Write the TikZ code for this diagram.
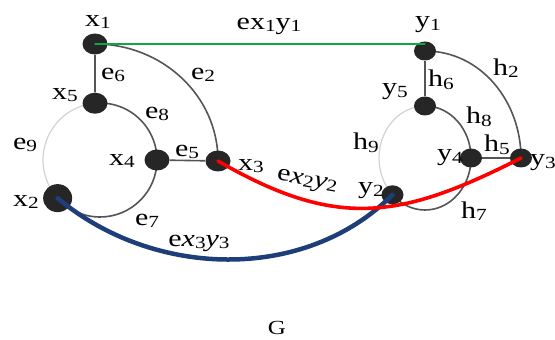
\documentclass[tikz,border=0pt]{standalone}
\usepackage{fontspec}
\setmainfont{Liberation Serif}
\newfontfamily\lblfont[FakeStretch=1.25]{Liberation Serif}
\usetikzlibrary{shapes,positioning,calc,backgrounds}
\usepackage{xcolor}
\definecolor{nodeblack}{RGB}{38,38,38}
\definecolor{edgegray}{RGB}{85,85,85}
\definecolor{faintgray}{RGB}{210,210,210}
\definecolor{linkgreen}{RGB}{20,165,70}
\definecolor{linkblue}{RGB}{30,62,122}
\newcommand{\lsub}[1]{\raisebox{-2.5pt}{\fontsize{17}{17}\selectfont #1}}

\begin{document}
\begin{tikzpicture}[x=1pt, y=1pt, thick]
  \tikzstyle{vertex} = [ellipse, fill=nodeblack, minimum width=25pt, minimum height=21pt, inner sep=0pt]
  \tikzstyle{small vertex} = [vertex, minimum width=22pt, minimum height=19pt]
  \tikzstyle{big vertex} = [vertex, minimum width=29pt, minimum height=28pt]
  \tikzstyle{lbl} = [font=\lblfont\fontsize{24}{26}\selectfont, inner sep=0pt]
  \tikzstyle{edge} = [draw, edgegray, line width=1.6pt]
  \tikzstyle{faint} = [draw, faintgray, line width=1.2pt]
  \tikzstyle{link} = [draw, line cap=round]

  \useasboundingbox (0,0) rectangle (555,340);

  % ring centres
  \coordinate (cl) at (100,180);
  \coordinate (cr) at (425,182);

  % graph x
  \node[vertex] (x1) at (95,296) {};
  \node[vertex] (x5) at ([shift={(95:57)}]cl) {};
  \node[vertex] (x4) at ([shift={(0:57)}]cl) {};
  \node[big vertex] (x2) at ([shift={(222:57)}]cl) {};
  \node[vertex] (x3) at (218,179) {};

  % graph y
  \node[small vertex] (y1) at (425,289) {};
  \node[small vertex] (y5) at ([shift={(0,52)}]cr) {};
  \node[small vertex] (y4) at ([shift={(46,0)}]cr) {};
  \node[small vertex] (y2) at ([shift={(-32.5,-36.8)}]cr) {};
  \node[small vertex] (y3) at (521,182) {};

  \begin{scope}[on background layer]
    \path[edge] (x1) -- (x5);
    \path[edge] (x4) -- (x3);
    \path[edge] (x1.center) to[out=0, in=90] (x3.center);
    \path[edge] (x5.center) arc[start angle=95, end angle=0, radius=57];
    \path[edge] (x4.center) arc[start angle=0, end angle=-138, radius=57];
    \path[faint] (x2.center) arc[start angle=222, end angle=95, radius=57];

    \path[edge] (y1) -- (y5);
    \path[edge] (y4) -- (y3);
    \path[edge] (y1.center) to[out=0, in=90] (y3.center);
    \path[edge] (y5.center) arc[start angle=90, end angle=0, x radius=46, y radius=52];
    \path[edge] (y4.center) arc[start angle=0, end angle=-135, x radius=46, y radius=52];
    \path[faint] (y2.center) arc[start angle=225, end angle=90, x radius=46, y radius=52];
  \end{scope}

  % links between the graphs
  \path[link, linkgreen, line width=1.3pt] (x1.center) -- (x1.center -| y1.center);
  \path[link, linkblue, line width=4.5pt] (x2.center) to[out=-40, in=-135, looseness=0.95] (y2.center);
  \path[link, red, line width=3.6pt] (x3.center) to[out=-30, in=-153, looseness=1.15] (y3.center);

  % labels
  \node[lbl] (lx1) at (98,318) {x\lsub{1}};
  \node[lbl] (le6) at (113,265) {e\lsub{6}};
  \node[lbl] (le2) at (203,265) {e\lsub{2}};
  \node[lbl] (lx5) at (65,245) {x\lsub{5}};
  \node[lbl] (le8) at (157,226) {e\lsub{8}};
  \node[lbl] (le9) at (25,195) {e\lsub{9}};
  \node[lbl] (lx4) at (122,179) {x\lsub{4}};
  \node[lbl] (le5) at (187,188) {e\lsub{5}};
  \node[lbl] (lx3) at (251,174) {x\lsub{3}};
  \node[lbl] (lx2) at (26,138) {x\lsub{2}};
  \node[lbl] (le7) at (147,119) {e\lsub{7}};
  \node[lbl] (lex3) at (199,97) {e\textit{x}\lsub{3}\textit{y}\lsub{3}};
  \node[lbl] (lex1) at (269,314) {ex\lsub{1}y\lsub{1}};
  \node[lbl, rotate=-10] (lex2) at (307,158) {e\textit{x}\lsub{2}\textit{y}\lsub{2}};

  \node[lbl] (ly1) at (428,315) {y\lsub{1}};
  \node[lbl] (lh6) at (441,260) {h\lsub{6}};
  \node[lbl] (lh2) at (506,272) {h\lsub{2}};
  \node[lbl] (ly5) at (395,248) {y\lsub{5}};
  \node[lbl] (lh8) at (479,223) {h\lsub{8}};
  \node[lbl] (lh9) at (366,197) {h\lsub{9}};
  \node[lbl] (ly4) at (450,182) {y\lsub{4}};
  \node[lbl] (lh5) at (497,195) {h\lsub{5}};
  \node[lbl] (ly3) at (543,177) {y\lsub{3}};
  \node[lbl] (ly2) at (371,149) {y\lsub{2}};
  \node[lbl] (lh7) at (474,129) {h\lsub{7}};

  \node[font=\lblfont\fontsize{20}{22}\selectfont, inner sep=0pt] (title) at (277,12) {G};
\end{tikzpicture}
\end{document}
